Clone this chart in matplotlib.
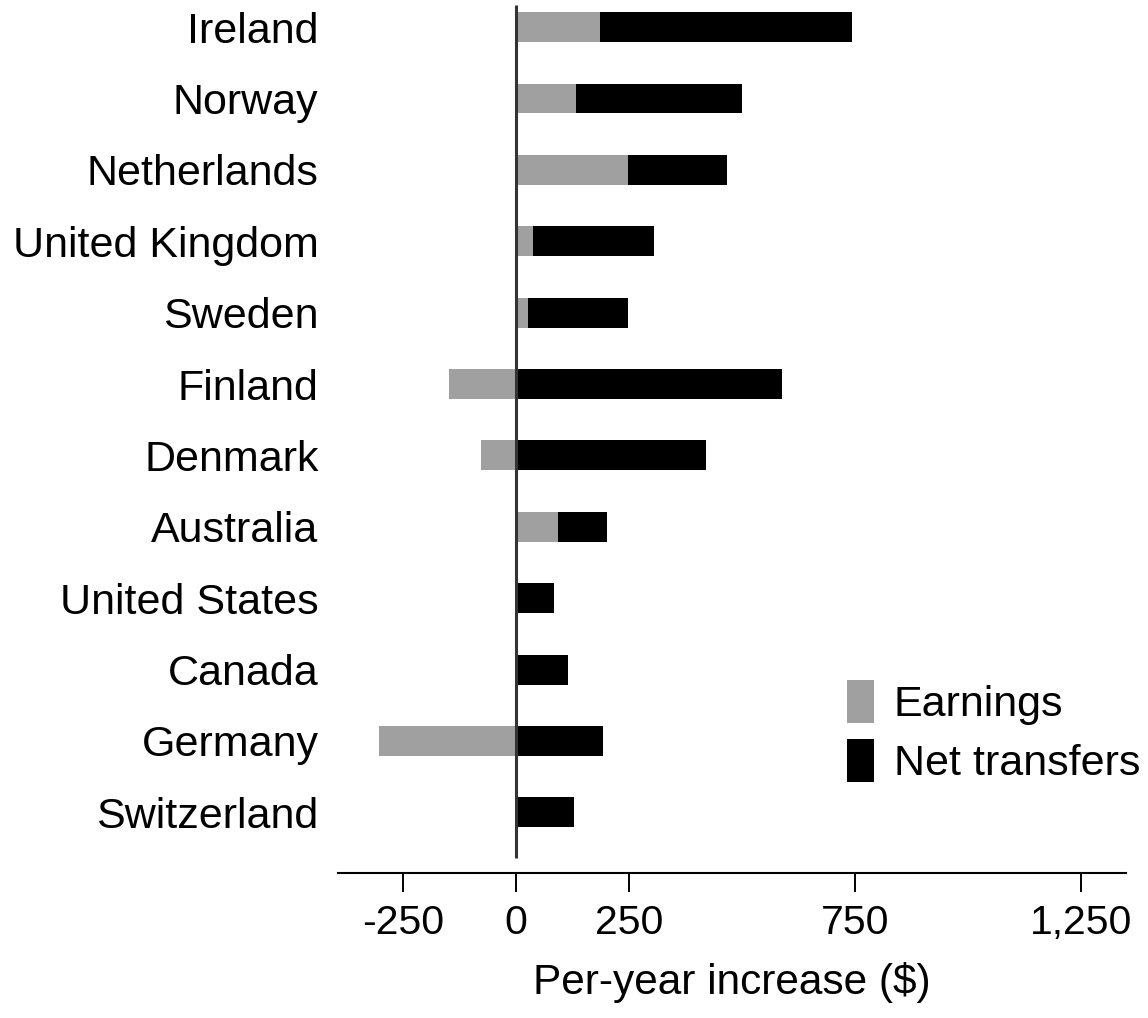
"""Per-year increase by country: earnings vs net transfers (horizontal stacked bars)."""

import numpy as np
import matplotlib

matplotlib.use("Agg")
import matplotlib.pyplot as plt

countries = [
    "Ireland", "Norway", "Netherlands", "United Kingdom", "Sweden", "Finland",
    "Denmark", "Australia", "United States", "Canada", "Germany", "Switzerland",
]
earnings = [186, 133, 248, 38, 27, -148, -77, 93, 4, 0, -303, 2]
net_transfers = [557, 367, 219, 267, 221, 588, 420, 108, 80, 115, 192, 126]
xticks = [-250, 0, 250, 750, 1250]
xtick_labels = ["-250", "0", "250", "750", "1,250"]

plt.rcParams["font.family"] = ["Liberation Sans", "DejaVu Sans"]

earn = np.asarray(earnings, float)
net = np.asarray(net_transfers, float)
y = np.arange(len(countries))
left_net = np.clip(earn, 0, None)

fig = plt.figure(figsize=(11.48, 10.18), dpi=100)
ax = fig.add_axes([338 / 1148, 145 / 1018, 788 / 1148, 873 / 1018])

ax.barh(y, earn, height=0.42, color="#a0a0a0", lw=0, label="Earnings")
ax.barh(y, net, left=left_net, height=0.42, color="black", lw=0, label="Net transfers")
ax.vlines(0, -0.31, 11.64, color="#333333", lw=2.2, zorder=3)

ax.set_xlim(-394, 1350)
ax.set_ylim(11.85, -0.38)
ax.set_yticks(y)
ax.set_yticklabels(countries, fontsize=31)
ax.tick_params(axis="y", length=0, pad=14)
ax.set_xticks(xticks)
ax.set_xticklabels(xtick_labels, fontsize=29.5)
ax.tick_params(axis="x", direction="out", length=13.5, width=1.4, pad=9)
ax.set_xlabel("Per-year increase ($)", fontsize=30.5, labelpad=14)

for side in ("left", "right", "top"):
    ax.spines[side].set_visible(False)
ax.spines["bottom"].set_linewidth(1.5)

ax.legend(
    loc="upper left", bbox_to_anchor=(0.646, 0.221), frameon=False,
    fontsize=31, handlelength=0.63, handleheight=1.15, handletextpad=0.45,
    labelspacing=0.32, borderpad=0, borderaxespad=0,
)

fig.savefig("out.png", dpi=100)
plt.close(fig)
